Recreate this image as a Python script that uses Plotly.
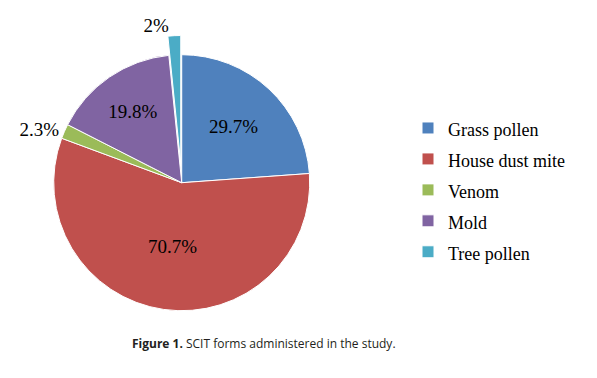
import plotly.graph_objects as go

categories = ["Grass pollen", "House dust mite", "Venom", "Mold", "Tree pollen"]
values = [29.7, 70.7, 2.3, 19.8, 2.0]
label_text = ["29.7%", "70.7%", "2.3%", "19.8%", "2%"]
colors = ["#4F81BD", "#C0504D", "#9BBB59", "#8064A2", "#4BACC6"]
text_positions = ["inside", "inside", "outside", "inside", "outside"]
pulls = [0, 0, 0, 0, 0.15]

legend_labels = ['<span style="font-size:18px">%s</span>' % c for c in categories]

fig = go.Figure(go.Pie(
    labels=legend_labels,
    values=values,
    text=label_text,
    textinfo="text",
    textposition=text_positions,
    insidetextorientation="horizontal",
    sort=False,
    direction="clockwise",
    rotation=0,
    pull=pulls,
    marker=dict(colors=colors, line=dict(color="white", width=1)),
    textfont=dict(family="Liberation Serif", size=19, color="black"),
    hoverinfo="skip",
    domain=dict(x=[0.0578, 0.551], y=[0.1272, 0.9061]),
))

fig.add_annotation(
    x=264 / 597, y=1 - 343 / 378, xref="paper", yref="paper",
    text="<b>Figure 1.</b> SCIT forms administered in the study.",
    showarrow=False, xanchor="center", yanchor="middle",
    font=dict(family="Open Sans", size=12, color="#231f20"),
)

fig.update_layout(
    width=597, height=378,
    margin=dict(l=0, r=0, t=0, b=0, pad=0, autoexpand=False),
    paper_bgcolor="white", plot_bgcolor="white",
    showlegend=True,
    legend=dict(
        x=408 / 597, y=1 - 107.5 / 378, xanchor="left", yanchor="top",
        font=dict(family="Liberation Serif", size=21.5, color="black"),
        bgcolor="rgba(0,0,0,0)",
    ),
)

fig.write_html("out.html")
